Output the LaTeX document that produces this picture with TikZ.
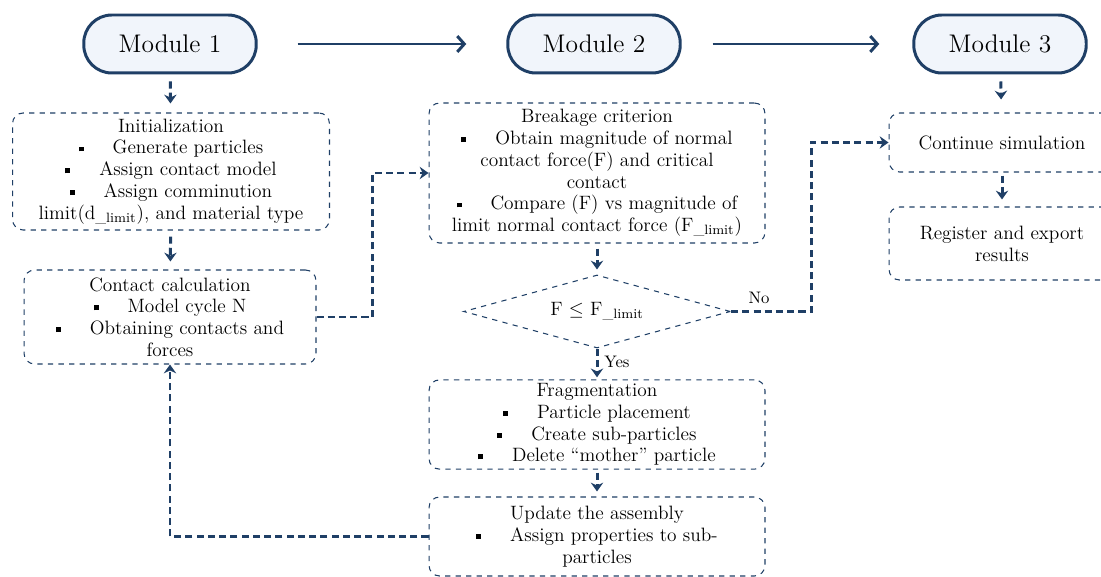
\documentclass[tikz,border=0pt]{standalone}
\usepackage{amsmath}
\usepackage{amssymb}
\usepackage{xcolor}
\usepackage{tikz}
\usetikzlibrary{shapes.geometric, arrows.meta, positioning}

\definecolor{navy}{HTML}{1F3F66}
\definecolor{modfill}{HTML}{F1F5FB}
\newcommand{\sqb}{\rule[0.3ex]{2.8pt}{2.8pt}\hspace{1.5em}}
\newcommand{\limsub}{\textsubscript{\_limit}}

\begin{document}
\begin{tikzpicture}[
  x=0.02cm, y=-0.02cm,
  modbox/.style={draw=navy, line width=1.7pt, fill=modfill, rounded corners=0.56cm, minimum width=3.45cm, minimum height=1.16cm, font=\fontsize{14.5}{17}\selectfont},
  stepbox/.style={draw=navy, dashed, line width=0.6pt, rounded corners=6pt, align=center, inner sep=2pt, font=\fontsize{11}{12.4}\selectfont},
  decision/.style={draw=navy, dashed, line width=0.6pt, diamond, aspect=3.66, inner sep=0pt, minimum width=5.34cm, minimum height=1.46cm, font=\fontsize{11}{12.4}\selectfont},
  arrow/.style={-{Straight Barb[length=4pt, width=9pt]}, navy, line width=1.7pt},
  flow/.style={-{Stealth[length=5pt, width=7pt]}, navy, line width=1.7pt, dash pattern=on 4pt off 2.4pt},
  lbl/.style={text=black, font=\fontsize{9.5}{11}\selectfont}
]
\useasboundingbox (0,0) rectangle (1101,577);

% MODULES
\node[modbox] (mod1) at (170, 44) {Module 1};
\node[modbox] (mod2) at (594, 44) {Module 2};
\node[modbox] (mod3) at (1000, 44) {Module 3};

\draw[arrow, shorten <=0.8cm, shorten >=0.8cm] (mod1) -- (mod2);
\draw[arrow, shorten <=0.62cm, shorten >=0.66cm] (mod2) -- (mod3);

% MODULE 1
\node[stepbox, minimum width=6.34cm, minimum height=2.34cm] (init) at (171, 171.5) {Initialization\\ \sqb Generate particles\\ \sqb Assign contact model\\ \sqb Assign comminution\\ limit(d\limsub), and material type};
\node[stepbox, minimum width=5.84cm, minimum height=1.88cm] (contact) at (170, 317) {Contact calculation\\ \sqb Model cycle N\\ \sqb Obtaining contacts and\\ forces};

\draw[flow, shorten <=0.14cm, shorten >=0.18cm] (mod1) -- (init);
\draw[flow, shorten <=0.12cm, shorten >=0.16cm] (init) -- (contact);

% MODULE 2
\node[stepbox, minimum width=6.72cm, minimum height=2.8cm] (breakage) at (597, 173) {Breakage criterion\\ \sqb Obtain magnitude of normal\\ contact force(F) and critical\\ contact\\ \sqb Compare (F) vs magnitude of\\ limit normal contact force (F\limsub)};
\node[decision] (check) at (597, 311.5) {F $\leq$ F\limsub};
\node[stepbox, minimum width=6.72cm, minimum height=1.78cm] (frag) at (597, 424.5) {Fragmentation\\ \sqb Particle placement\\ \sqb Create sub-particles\\ \sqb Delete ``mother'' particle};
\node[stepbox, minimum width=6.72cm, minimum height=1.58cm] (update) at (597, 536.5) {Update the assembly\\ \sqb Assign properties to sub-\\ particles};

\draw[flow] (contact.east) -- ++(56,0) |- (breakage.west);
\draw[flow, shorten <=0.1cm, shorten >=0.1cm] (breakage) -- (check);
\draw[flow, shorten >=0.04cm] (check.south) -- node[right, lbl, pos=0.45]{Yes} (frag.north);
\draw[flow, shorten <=0.06cm, shorten >=0.1cm] (frag) -- (update);
\draw[flow] (update.west) -| (contact.south);

% MODULE 3
\node[stepbox, minimum width=4.52cm, minimum height=1.18cm] (cont) at (1002, 142.5) {Continue simulation};
\node[stepbox, minimum width=4.52cm, minimum height=1.46cm] (register) at (1002, 243.5) {Register and export\\ results};

\draw[flow, shorten <=0.14cm, shorten >=0.26cm] (mod3) -- (cont);
\draw[flow, shorten <=0.06cm, shorten >=0.14cm] (cont) -- (register);
\draw[flow] (check.east) -- node[above, lbl, pos=0.35]{No} ++(80,0) |- (cont.west);

\end{tikzpicture}
\end{document}
